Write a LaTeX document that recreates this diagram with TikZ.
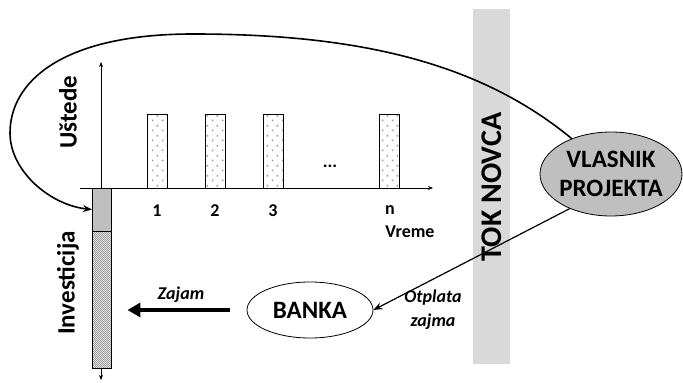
\documentclass[tikz,border=0pt]{standalone}
\usepackage{fontspec}
\setmainfont{Carlito}[BoldFont={Carlito Bold},BoldItalicFont={Carlito Bold Italic}]
\usetikzlibrary{arrows.meta,patterns,patterns.meta,shapes.geometric}
\tikzdeclarepattern{
  name=tackice,
  type=uncolored,
  bottom left={(0pt,0pt)},
  top right={(10pt,10pt)},
  tile size={(10pt,10pt)},
  code={
    \pgfpathrectangle{\pgfpoint{2pt}{2pt}}{\pgfpoint{1.7pt}{1.7pt}}
    \pgfpathrectangle{\pgfpoint{7pt}{7pt}}{\pgfpoint{1.7pt}{1.7pt}}
    \pgfusepath{fill}
  }
}
\tikzdeclarepattern{
  name=crtice,
  type=uncolored,
  bottom left={(-0.5pt,-0.5pt)},
  top right={(2.5pt,2.5pt)},
  tile size={(2pt,2pt)},
  code={
    \pgfsetlinewidth{0.5pt}
    \pgfpathmoveto{\pgfpoint{-0.5pt}{-0.5pt}}
    \pgfpathlineto{\pgfpoint{2.5pt}{2.5pt}}
    \pgfusepath{stroke}
  }
}
\begin{document}
\begin{tikzpicture}[x=1pt,y=1pt,
    velika/.style={font=\bfseries\fontsize{25}{29}\selectfont},
    mala/.style={font=\bfseries\fontsize{18}{22}\selectfont},
    kosa/.style={font=\bfseries\itshape\fontsize{18}{24}\selectfont},
    tanka/.style={line width=0.8pt},
    debela/.style={line width=1.6pt},
    strelica/.style={-{Stealth[length=9pt,width=7pt]}}]
    \useasboundingbox (0,0) rectangle (683,383);
    \fill[gray!30] (473,19) rectangle (510,374);
    \node[rotate=90,font=\bfseries\fontsize{30}{34}\selectfont] (tok) at (492,196) {TOK NOVCA};
    \draw[tanka,{Stealth[length=5pt,width=4pt]}-{Stealth[length=5pt,width=4pt]}] (101,3) -- (101,321);
    \draw[tanka,-{Stealth[length=5pt,width=4pt]}] (80,195) -- (433,195);
    \foreach \x in {147.7,205.3,263.3,379.3}
        \draw[tanka,pattern=tackice,pattern color=gray!80] (\x,195) rectangle ++(19.7,74);
    \foreach \x/\t in {157/1,215/2,273/3,390/n}
        \node[mala] (oznaka\t) at (\x,172.5) {\t};
    \node[mala] (tacke) at (330,217) {...};
    \node[mala] (vreme) at (410,151) {Vreme};
    \node[velika,rotate=90] (ustede) at (68,271) {Uštede};
    \node[velika,rotate=90] (investicija) at (68,100) {Investicija};
    \node[draw,tanka,fill=gray!50,minimum width=18.7pt,minimum height=43pt,inner sep=0pt] (udeo) at (101.7,173.5) {};
    \node[draw,tanka,preaction={fill=white},pattern=crtice,pattern color=gray!90,minimum width=18.7pt,minimum height=136.3pt,inner sep=0pt,anchor=north] (kredit) at (udeo.south) {};
    \node[ellipse,draw,tanka,fill=gray!50,minimum width=142pt,minimum height=84pt,inner xsep=-12pt,inner ysep=0pt,velika,align=center] (vlasnik) at (611,209) {VLASNIK\\PROJEKTA};
    \node[ellipse,draw,tanka,minimum width=126pt,minimum height=56pt,velika] (banka) at (310,73) {BANKA};
    \node[kosa] (zajam) at (181,88) {Zajam};
    \node[kosa,align=center] (otplata) at (433,73) {Otplata\\zajma};
    \draw[debela,strelica] (vlasnik.138) .. controls (480,320) and (360,349) .. (193,349) .. controls (60,349) and (10,300) .. (10,250) .. controls (10,212) and (50,178) .. (udeo.west);
    \draw[line width=1.2pt,strelica] (vlasnik.220) -- (banka.east);
    \draw[line width=3.5pt,-{Triangle[length=13pt,width=14pt]},shorten <=17pt,shorten >=16pt] (banka.west) -- (banka.west -| kredit.east);
\end{tikzpicture}
\end{document}
